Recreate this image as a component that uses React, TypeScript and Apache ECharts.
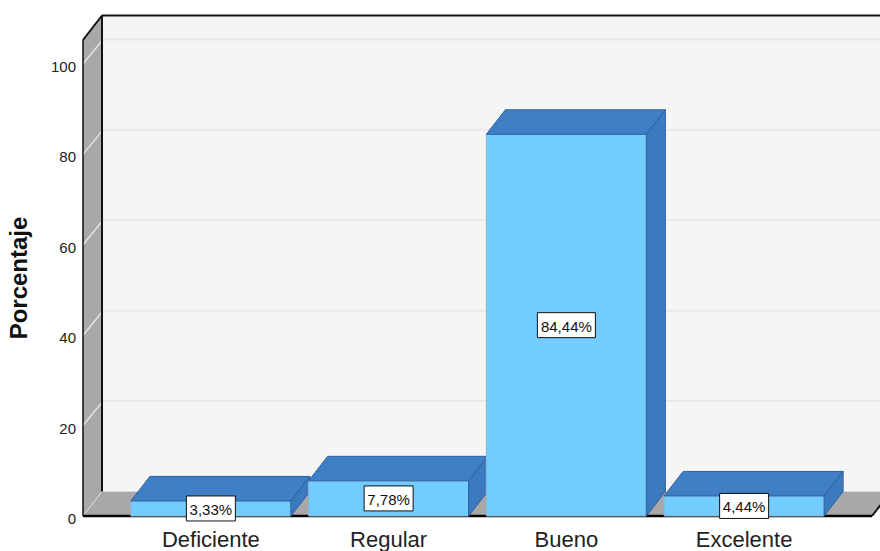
import React, { useEffect, useRef } from "react";
import * as echarts from "echarts";

const categories = ["Deficiente", "Regular", "Bueno", "Excelente"];
const percentages = [3.33, 7.78, 84.44, 4.44];
const valueLabels = ["3,33%", "7,78%", "84,44%", "4,44%"];
const gridTicks = [20, 40, 60, 80, 100];
const axisTop = 105.3;

const DX = 19;
const DY = -24.5;
const SIDE_MARGIN = 39;
const FONT = "Liberation Sans, Arial, sans-serif";

const poly = (points: number[][], fill: string, stroke = "none", lineWidth = 0, z2 = 0) => ({
  type: "polygon",
  z2,
  shape: { points },
  style: { fill, stroke, lineWidth },
});
const seg = (a: number[], b: number[], stroke: string, lineWidth: number, z2 = 1) => ({
  type: "line",
  z2,
  shape: { x1: a[0], y1: a[1], x2: b[0], y2: b[1] },
  style: { stroke, lineWidth },
});

function renderFrame(_: any, api: any) {
  const band = api.size([1, 0])[0];
  const c0 = api.coord([0, 0]);
  const cTop = api.coord([0, axisTop]);
  const c3 = api.coord([3, 0]);
  const xL = c0[0] - band / 2 - SIDE_MARGIN;
  const xR = c3[0] + band / 2 + SIDE_MARGIN;
  const yB = c0[1];
  const yT = cTop[1];
  const children: any[] = [
    poly([[xL + DX, yT + DY], [xR + DX, yT + DY], [xR + DX, yB + DY], [xL + DX, yB + DY]], "#F5F5F5"),
    poly([[xL, yT], [xL + DX, yT + DY], [xL + DX, yB + DY], [xL, yB]], "#A8A8A8"),
    poly([[xL, yB], [xR, yB], [xR + DX, yB + DY], [xL + DX, yB + DY]], "#A8A8A8"),
  ];
  children.push(seg([xL + DX, yB + DY], [xR + DX, yB + DY], "#D8D8D8", 1));
  children.push(seg([xL, yB], [xL + DX, yB + DY], "#DDDDDD", 1));
  children.push(seg([xL + DX, yT + DY], [xR + DX, yT + DY], "#111111", 2, 2));
  children.push(seg([xL + DX, yT + DY], [xL + DX, yB + DY], "#111111", 2, 2));
  children.push(seg([xL, yT], [xL + DX, yT + DY], "#111111", 2, 2));
  children.push(seg([xL, yT], [xL, yB], "#111111", 1.5, 2));
  children.push(seg([xL, yB], [xR, yB], "#000000", 2.5, 2));
  children.push(seg([xR, yB], [xR + DX, yB + DY], "#111111", 2, 2));
  gridTicks.forEach((t) => {
    const y = api.coord([0, t])[1];
    children.push(seg([xL + DX, y + DY], [xR + DX, y + DY], "#E9E9E9", 2));
    children.push(seg([xL, y], [xL + DX + 1, y + DY], "#E4E4E4", 1.5));
  });
  return { type: "group", children };
}

function renderBar(_: any, api: any) {
  const band = api.size([1, 0])[0];
  const w = band * 0.9;
  const top = api.coord([api.value(0), api.value(1)]);
  const base = api.coord([api.value(0), 0]);
  const l = top[0] - w / 2;
  const r = top[0] + w / 2;
  const edge = "#2F5F9E";
  return {
    type: "group",
    children: [
      poly([[l, base[1]], [r, base[1]], [r, top[1]], [l, top[1]]], "#73CCFF", "#8FB4D0", 1),
      poly([[l, top[1]], [r, top[1]], [r + DX, top[1] + DY], [l + DX, top[1] + DY]], "#3F7FC6", edge, 1),
      poly([[r, base[1]], [r, top[1]], [r + DX, top[1] + DY], [r + DX, base[1] + DY]], "#3C7ABF", edge, 1),
    ],
  };
}

function renderLabel(params: any, api: any) {
  const top = api.coord([api.value(0), api.value(1)]);
  const base = api.coord([api.value(0), 0]);
  const text = valueLabels[params.dataIndex];
  const cy = (top[1] + base[1]) / 2;
  const bw = text.length > 5 ? 58 : 49;
  const bh = 25;
  return {
    type: "group",
    children: [
      {
        type: "rect",
        shape: { x: top[0] - bw / 2, y: cy - bh / 2, width: bw, height: bh },
        style: { fill: "#FFFFFF", stroke: "#111111", lineWidth: 1 },
      },
      {
        type: "text",
        style: {
          x: top[0],
          y: cy + 1,
          text,
          fill: "#111111",
          fontSize: 15,
          fontFamily: FONT,
          align: "center",
          verticalAlign: "middle",
        },
      },
    ],
  };
}

export default function App() {
  const ref = useRef<HTMLDivElement>(null);
  useEffect(() => {
    document.body.style.margin = "0";
    const chart = echarts.init(ref.current!, null, { renderer: "svg" });
    const barData = categories.map((c, i) => [i, percentages[i]]);
    chart.setOption({
      animation: false,
      backgroundColor: "#FFFFFF",
      grid: { left: 122, right: 47, top: 40, bottom: 35, outerBoundsMode: "none" },
      xAxis: {
        type: "category",
        data: categories,
        axisLine: { show: false },
        axisTick: { show: false },
        axisLabel: { fontSize: 22, color: "#222222", fontFamily: FONT, margin: 12 },
      },
      yAxis: {
        type: "value",
        min: 0,
        max: axisTop,
        interval: 20,
        offset: SIDE_MARGIN,
        axisLine: { show: false },
        axisTick: { show: false },
        splitLine: { show: false },
        name: "Porcentaje",
        nameLocation: "middle",
        nameGap: 53,
        nameTextStyle: { fontSize: 24, fontWeight: "bold", color: "#111111", fontFamily: FONT },
        axisLabel: {
          margin: 7,
          formatter: (v: number) => (v % 20 === 0 ? `{t|${v}}` : ""),
          rich: {
            t: { fontSize: 15, color: "#222222", fontFamily: FONT, padding: [5, 0, 0, 0] },
          },
        },
      },
      series: [
        { type: "custom", z: 1, data: [[0, 0]], renderItem: renderFrame, silent: true, clip: false },
        { type: "custom", z: 2, data: barData, renderItem: renderBar, silent: true, clip: false },
        { type: "custom", z: 3, data: barData, renderItem: renderLabel, silent: true, clip: false },
      ],
    });
    return () => chart.dispose();
  }, []);
  return <div ref={ref} style={{ position: "fixed", left: 0, top: 0, width: 880, height: 551 }} />;
}
